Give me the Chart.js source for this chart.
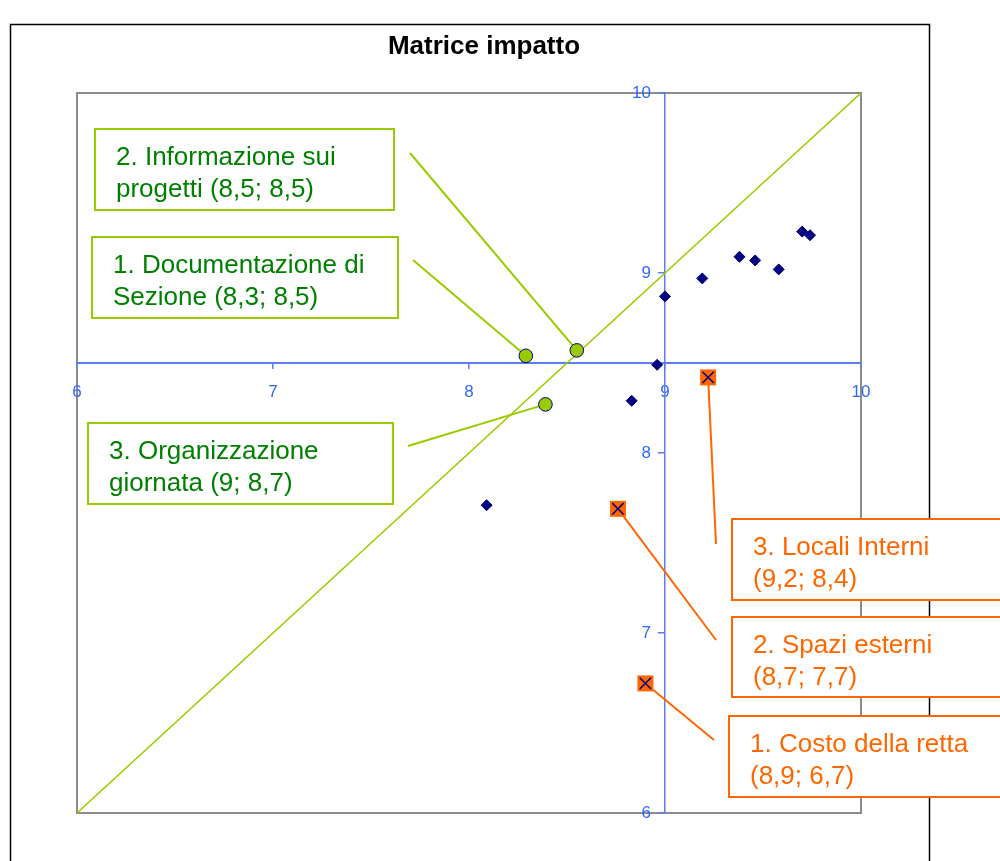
<!DOCTYPE html>
<html>
<head>
<meta charset="utf-8">
<script src="https://cdn.jsdelivr.net/npm/chart.js@4.4.1/dist/chart.umd.min.js"></script>
<style>
  html, body { margin: 0; padding: 0; background: #ffffff; }
  #wrap { position: relative; width: 1000px; height: 861px; overflow: hidden; }
  canvas { position: absolute; left: 0; top: 0; }
</style>
</head>
<body>
<div id="wrap"><canvas id="c" width="1000" height="861"></canvas></div>
<script>
// ---------- DATA ----------
const chartTitle = "Matrice impatto";

const tickValues = [6, 7, 8, 9, 10];

// blue diamonds (other items)
const diamondX = [9.70, 9.74, 9.38, 9.46, 9.58, 9.19, 9.00, 8.96, 8.83, 8.09];
const diamondY = [9.23, 9.21, 9.09, 9.07, 9.02, 8.97, 8.87, 8.49, 8.29, 7.71];

// green circles (strengths)
const greenLabels = [
  ["1. Documentazione di", "Sezione (8,3; 8,5)"],
  ["2. Informazione sui", "progetti (8,5; 8,5)"],
  ["3. Organizzazione", "giornata (9; 8,7)"]
];
const greenX = [8.29, 8.55, 8.39];
const greenY = [8.54, 8.57, 8.27];

// orange squares (weaknesses)
const orangeLabels = [
  ["1. Costo della retta", "(8,9; 6,7)"],
  ["2. Spazi esterni", "(8,7; 7,7)"],
  ["3. Locali Interni", "(9,2; 8,4)"]
];
const orangeX = [8.90, 8.76, 9.22];
const orangeY = [6.72, 7.69, 8.42];

// reference diagonal
const diagX = [6, 10];
const diagY = [6, 10];

// ---------- LAYOUT (callout boxes, pixels) ----------
const greenBoxLayout = [
  { x: 92, y: 237, w: 306, h: 81, lx: 413, ly: 260 },
  { x: 95, y: 129, w: 299, h: 81, lx: 410, ly: 153 },
  { x: 88, y: 423, w: 305, h: 81, lx: 408, ly: 446 }
];
const orangeBoxLayout = [
  { x: 729, y: 716, w: 300, h: 81, lx: 714, ly: 740 },
  { x: 732, y: 617, w: 300, h: 80, lx: 716, ly: 640 },
  { x: 732, y: 519, w: 300, h: 81, lx: 716, ly: 544 }
];

const GREEN = '#99CC00';
const GREEN_TEXT = '#008000';
const ORANGE = '#FF6600';
const NAVY = '#000080';
const AXIS_BLUE = '#5A7DF3';
const LABEL_BLUE = '#3366FF';
const FONT = "'Liberation Sans', Arial, sans-serif";
const Y_LABEL_GAP = 14;

const zip = (xs, ys) => xs.map((x, i) => ({ x: x, y: ys[i] }));

const framePlugin = {
  id: 'frame',
  beforeDraw(chart) {
    const ctx = chart.ctx;
    const a = chart.chartArea;
    // shift y tick labels to the left of the crossing axis
    const items = chart.scales.y.getLabelItems(a);
    items.forEach(it => {
      if (!it._shifted) {
        it.options.translation[0] -= Y_LABEL_GAP;
        it.options.textAlign = 'right';
        it._shifted = true;
      }
    });
    ctx.save();
    ctx.fillStyle = '#ffffff';
    ctx.fillRect(0, 0, chart.width, chart.height);
    // outer chart border
    ctx.strokeStyle = '#000000';
    ctx.lineWidth = 1.5;
    ctx.strokeRect(10.5, 24.5, 919, 900);
    // plot area border
    ctx.strokeStyle = '#8C8C8C';
    ctx.lineWidth = 2;
    ctx.strokeRect(a.left, a.top, a.right - a.left, a.bottom - a.top);
    // title
    ctx.fillStyle = '#000000';
    ctx.font = "bold 26px " + FONT;
    ctx.textAlign = 'center';
    ctx.textBaseline = 'alphabetic';
    ctx.fillText(chartTitle, 484, 54);
    ctx.restore();
  },
  beforeDatasetsDraw(chart) {
    const ctx = chart.ctx;
    const xs = chart.scales.x, ys = chart.scales.y;
    ctx.save();
    ctx.lineWidth = 2;
    ctx.strokeStyle = GREEN;
    greenBoxLayout.forEach((b, i) => {
      ctx.beginPath();
      ctx.moveTo(xs.getPixelForValue(greenX[i]), ys.getPixelForValue(greenY[i]));
      ctx.lineTo(b.lx, b.ly);
      ctx.stroke();
    });
    ctx.strokeStyle = ORANGE;
    orangeBoxLayout.forEach((b, i) => {
      ctx.beginPath();
      ctx.moveTo(xs.getPixelForValue(orangeX[i]), ys.getPixelForValue(orangeY[i]));
      ctx.lineTo(b.lx, b.ly);
      ctx.stroke();
    });
    ctx.restore();
  },
  afterDraw(chart) {
    const ctx = chart.ctx;
    ctx.save();
    ctx.font = "26px " + FONT;
    ctx.textAlign = 'left';
    ctx.textBaseline = 'alphabetic';
    const drawBox = (b, lines, stroke, color) => {
      ctx.fillStyle = '#ffffff';
      ctx.fillRect(b.x, b.y, b.w, b.h);
      ctx.strokeStyle = stroke;
      ctx.lineWidth = 2;
      ctx.strokeRect(b.x, b.y, b.w, b.h);
      ctx.fillStyle = color;
      lines.forEach((t, k) => ctx.fillText(t, b.x + 21, b.y + 36 + k * 32));
    };
    greenBoxLayout.forEach((b, i) => drawBox(b, greenLabels[i], GREEN, GREEN_TEXT));
    orangeBoxLayout.forEach((b, i) => drawBox(b, orangeLabels[i], ORANGE, ORANGE));
    ctx.restore();
  }
};

new Chart(document.getElementById('c'), {
  type: 'scatter',
  data: {
    datasets: [
      {
        label: 'crosses',
        data: zip(orangeX, orangeY),
        pointStyle: 'crossRot',
        pointRadius: 8,
        borderColor: NAVY,
        borderWidth: 1.5,
        backgroundColor: NAVY,
        order: 0
      },
      {
        label: 'weak',
        data: zip(orangeX, orangeY),
        pointStyle: 'rect',
        pointRadius: 11.3,
        backgroundColor: ORANGE,
        borderColor: ORANGE,
        borderWidth: 0,
        order: 1
      },
      {
        label: 'strong',
        data: zip(greenX, greenY),
        pointStyle: 'circle',
        pointRadius: 6.8,
        backgroundColor: GREEN,
        borderColor: NAVY,
        borderWidth: 1,
        order: 2
      },
      {
        label: 'items',
        data: zip(diamondX, diamondY),
        pointStyle: 'rectRot',
        pointRadius: 5.5,
        backgroundColor: NAVY,
        borderColor: NAVY,
        borderWidth: 1,
        order: 3
      },
      {
        label: 'diag',
        data: zip(diagX, diagY),
        showLine: true,
        borderColor: GREEN,
        borderWidth: 1.5,
        pointRadius: 0,
        order: 5
      }
    ]
  },
  options: {
    responsive: false,
    animation: false,
    devicePixelRatio: 1,
    layout: { padding: { left: 77, top: 93, right: 139, bottom: 48 } },
    plugins: {
      legend: { display: false },
      tooltip: { enabled: false },
      title: { display: false }
    },
    scales: {
      x: {
        type: 'linear',
        min: tickValues[0],
        max: tickValues[tickValues.length - 1],
        position: { y: 8.5 },
        afterBuildTicks: s => { s.ticks = tickValues.map(v => ({ value: v })); },
        ticks: { color: LABEL_BLUE, font: { size: 17, family: FONT }, padding: 14, maxRotation: 0, autoSkip: false },
        grid: { display: true, drawOnChartArea: false, drawTicks: true, tickLength: 5, color: AXIS_BLUE, lineWidth: 1.5 },
        border: { display: true, color: AXIS_BLUE, width: 2 }
      },
      y: {
        type: 'linear',
        min: tickValues[0],
        max: tickValues[tickValues.length - 1],
        position: { x: 9 },
        afterBuildTicks: s => { s.ticks = tickValues.map(v => ({ value: v })); },
        ticks: { color: LABEL_BLUE, font: { size: 17, family: FONT }, padding: 8, autoSkip: false },
        grid: { display: true, drawOnChartArea: false, drawTicks: true, tickLength: 6, color: AXIS_BLUE, lineWidth: 1.5 },
        border: { display: true, color: AXIS_BLUE, width: 1.5 }
      }
    }
  },
  plugins: [framePlugin]
});
</script>
</body>
</html>
